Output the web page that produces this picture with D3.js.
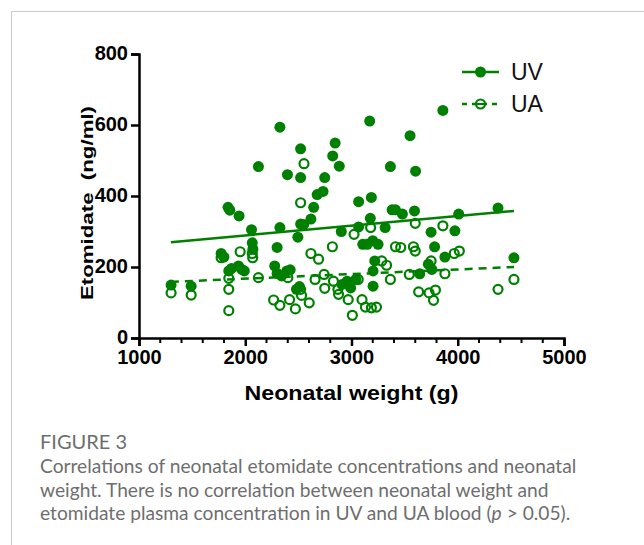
<!DOCTYPE html>
<html>
<head>
<meta charset="utf-8" />
<title>Figure 3</title>
<script src="https://d3js.org/d3.v7.min.js"></script>
<style>
  body { margin: 0; background: #fff; }
  svg { display: block; }
</style>
</head>
<body>
<script>
// UV (umbilical vein) points: weight (g), etomidate (ng/ml)
const uvWeight = [1302, 1491, 1773, 1799, 1838, 1855, 1942, 2059, 2066, 2072, 1845, 1871, 1936, 1968, 1991,
  2124, 2326, 2300, 2326, 2277, 2300, 2342, 2391, 2423, 2397, 2521, 2521, 2495, 2521, 2550, 2618, 2644,
  2677, 2732, 2748, 2823, 2846, 2885, 2904, 2482, 2510, 2911, 2959, 3040, 2992, 3067, 3067, 3171, 3187,
  3177, 3106, 3148, 3200, 3250, 3203, 3219, 3203, 3317, 3366, 3382, 3414, 3479, 3551, 3603, 3593, 3642,
  3749, 3782, 3723, 3756, 3860, 3879, 3973, 4009, 4379, 4529];
const uvConc = [149, 146, 238, 228, 368, 360, 344, 305, 268, 250, 189, 196, 203, 193, 189,
  483, 594, 255, 311, 203, 182, 175, 189, 192, 460, 533, 452, 284, 321, 320, 335, 368,
  404, 413, 452, 513, 549, 484, 300, 137, 145, 151, 160, 165, 141, 313, 384, 611, 396,
  337, 264, 264, 274, 264, 189, 217, 146, 311, 483, 361, 361, 349, 570, 470, 358, 181,
  298, 257, 208, 193, 641, 228, 302, 349, 366, 226];

// UA (umbilical artery) points
const uaWeight = [1302, 1491, 1773, 1845, 1845, 1845, 1952, 2066, 2070, 2124, 2267, 2326, 2401, 2417,
  2472, 2521, 2530, 2521, 2553, 2602, 2618, 2657, 2690, 2742, 2748, 2820, 2830, 2872, 2878, 2969,
  3008, 3024, 3063, 3099, 3131, 3180, 3187, 3235, 3284, 3330, 3366, 3414, 3463, 3544, 3583, 3600,
  3600, 3632, 3730, 3749, 3772, 3790, 3860, 3879, 3967, 4015, 4379, 4529];
const uaConc = [127, 121, 226, 168, 137, 77, 243, 238, 226, 170, 107, 92, 170, 108,
  82, 137, 120, 381, 491, 99, 238, 165, 222, 179, 140, 257, 160, 137, 123, 108,
  64, 292, 165, 108, 87, 311, 85, 87, 217, 205, 165, 257, 255, 179, 257, 245,
  323, 130, 127, 217, 106, 135, 316, 181, 238, 245, 137, 165];

// fitted regression lines, read at the two ends
const fitWeight = [1300, 4530];
const uvFit = [270, 358];
const uaFit = [158, 200];

const xTicks = [1000, 2000, 3000, 4000, 5000];
const yTicks = [0, 200, 400, 600, 800];
const seriesNames = ["UV", "UA"];

const captionTitle = "FIGURE 3";
const captionLines = [
  "Correlations of neonatal etomidate concentrations and neonatal",
  "weight. There is no correlation between neonatal weight and",
  "etomidate plasma concentration in UV and UA blood ("
];

const green = "#008000";
const W = 644, H = 545;

const svg = d3.select("body").append("svg")
  .attr("width", W)
  .attr("height", H);

// card border (top and left visible)
svg.append("path")
  .attr("d", "M11.5,545 V11.5 H644")
  .attr("fill", "none")
  .attr("stroke", "#cccccc")
  .attr("stroke-width", 1);

const x = d3.scaleLinear().domain([1000, 5000]).range([139, 564]);
const y = d3.scaleLinear().domain([0, 800]).range([338, 54]);

// axes
const xAxis = svg.append("g")
  .attr("transform", "translate(0," + y(0) + ")")
  .call(d3.axisBottom(x).tickValues(xTicks).tickSize(8).tickPadding(4).tickFormat(d3.format("d")));
const yAxis = svg.append("g")
  .attr("transform", "translate(" + x(1000) + ",0)")
  .call(d3.axisLeft(y).tickValues(yTicks).tickSize(8).tickPadding(3));

[xAxis, yAxis].forEach(function(g) {
  g.select(".domain").attr("stroke", "#000").attr("stroke-width", 2.5);
  g.selectAll(".tick line").attr("stroke", "#000").attr("stroke-width", 2.5);
  g.selectAll(".tick text")
    .attr("fill", "#000")
    .style("font-family", "'Liberation Sans', Arial, sans-serif")
    .style("font-weight", "bold")
    .style("font-size", "20px");
});
yAxis.selectAll(".tick text").attr("dy", "0.28em");

// minor ticks on x
const minor = d3.range(1000, 5001, 200).filter(d => d % 1000 !== 0);
xAxis.selectAll(".minor")
  .data(minor)
  .join("line")
  .attr("class", "minor")
  .attr("x1", d => x(d)).attr("x2", d => x(d))
  .attr("y1", 0).attr("y2", 5)
  .attr("stroke", "#000")
  .attr("stroke-width", 2);

// axis titles
svg.append("text")
  .attr("x", (x(1000) + x(5000)) / 2)
  .attr("y", 400)
  .attr("text-anchor", "middle")
  .attr("textLength", 214)
  .attr("lengthAdjust", "spacingAndGlyphs")
  .style("font-family", "'Liberation Sans', Arial, sans-serif")
  .style("font-weight", "bold")
  .style("font-size", "21px")
  .text("Neonatal weight (g)");

svg.append("text")
  .attr("transform", "translate(93,203) rotate(-90)")
  .attr("text-anchor", "middle")
  .attr("textLength", 194)
  .attr("lengthAdjust", "spacingAndGlyphs")
  .style("font-family", "'Liberation Sans', Arial, sans-serif")
  .style("font-weight", "bold")
  .style("font-size", "17px")
  .attr("xml:space", "preserve")
  .text("Etomidate  (ng/ml)");

// regression lines
const fitLine = d3.line().x(d => x(d[0])).y(d => y(d[1]));
svg.append("path")
  .attr("d", fitLine(fitWeight.map((w, i) => [w, uaFit[i]])))
  .attr("fill", "none")
  .attr("stroke", green)
  .attr("stroke-width", 2.5)
  .attr("stroke-dasharray", "8,6");
svg.append("path")
  .attr("d", fitLine(fitWeight.map((w, i) => [w, uvFit[i]])))
  .attr("fill", "none")
  .attr("stroke", green)
  .attr("stroke-width", 2.5);

// points
svg.append("g").selectAll("circle")
  .data(uaWeight.map((w, i) => [w, uaConc[i]]))
  .join("circle")
  .attr("cx", d => x(d[0]))
  .attr("cy", d => y(d[1]))
  .attr("r", 4.5)
  .attr("fill", "none")
  .attr("stroke", green)
  .attr("stroke-width", 2.2);

svg.append("g").selectAll("circle")
  .data(uvWeight.map((w, i) => [w, uvConc[i]]))
  .join("circle")
  .attr("cx", d => x(d[0]))
  .attr("cy", d => y(d[1]))
  .attr("r", 5.5)
  .attr("fill", green);

// legend
const legend = svg.append("g");
seriesNames.forEach(function(name, i) {
  const ly = 72 + i * 32;
  const row = legend.append("g");
  if (i === 0) {
    row.append("line").attr("x1", 462).attr("x2", 499).attr("y1", ly).attr("y2", ly)
      .attr("stroke", green).attr("stroke-width", 2.5);
    row.append("circle").attr("cx", 480.5).attr("cy", ly).attr("r", 5.5).attr("fill", green);
  } else {
    row.append("line").attr("x1", 462).attr("x2", 499).attr("y1", ly).attr("y2", ly)
      .attr("stroke", green).attr("stroke-width", 2.5).attr("stroke-dasharray", "5,5");
    row.append("circle").attr("cx", 480.5).attr("cy", ly).attr("r", 4.5)
      .attr("fill", "#fff").attr("stroke", green).attr("stroke-width", 2.2);
    row.append("line").attr("x1", 477).attr("x2", 485).attr("y1", ly).attr("y2", ly)
      .attr("stroke", green).attr("stroke-width", 2);
  }
  row.append("text")
    .attr("x", 511)
    .attr("y", ly)
    .attr("dy", "0.36em")
    .style("font-family", "'Liberation Sans', Arial, sans-serif")
    .style("font-size", "23px")
    .attr("fill", "#111")
    .text(name);
});

// caption
const cap = svg.append("g")
  .style("font-family", "Lato, 'Open Sans', sans-serif")
  .attr("fill", "#6e6e6e");
cap.append("text")
  .attr("x", 40).attr("y", 449)
  .style("font-size", "20px")
  .text(captionTitle);
captionLines.forEach(function(line, i) {
  const t = cap.append("text")
    .attr("x", 40)
    .attr("y", 473 + i * 23.5)
    .style("font-size", "19.2px")
    .text(line);
  if (i === captionLines.length - 1) {
    t.append("tspan").style("font-style", "italic").text("p");
    t.append("tspan").text(" > 0.05).");
  }
});
</script>
</body>
</html>
